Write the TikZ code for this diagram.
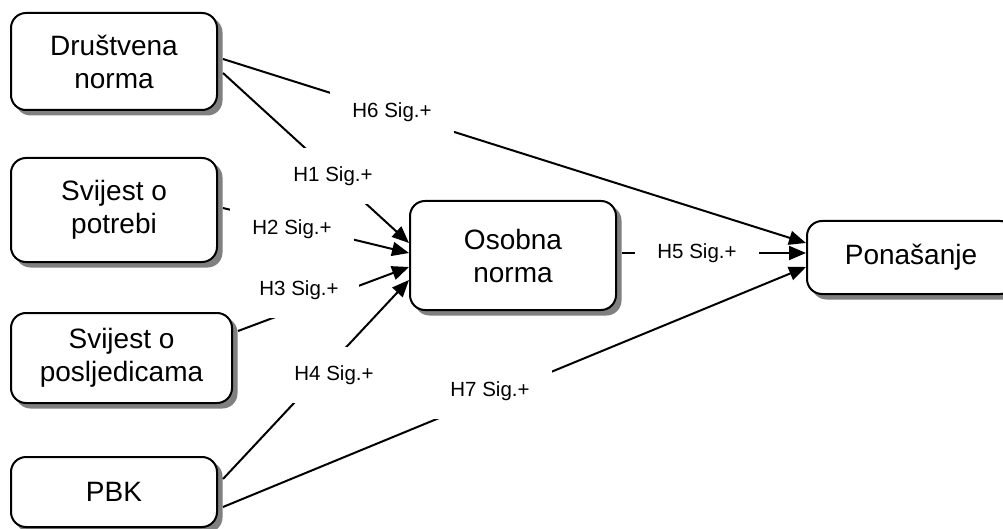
\documentclass[tikz,border=0pt]{standalone}
\usepackage{fontspec}
\setmainfont{Liberation Sans}
\usetikzlibrary{arrows.meta}
\begin{document}
\begin{tikzpicture}[x=1pt,y=-1pt,
  box/.style={draw=black, line width=2pt, rounded corners=15pt, fill=white, align=center,
    font=\fontsize{28}{33}\selectfont, inner sep=0pt},
  shadowbox/.style={fill=black!50, rounded corners=15pt},
  conn/.style={line width=2pt, -{Triangle[length=17pt,width=14pt]}},
  lab/.style={fill=white, font=\fontsize{20.5}{24}\selectfont, minimum width=124pt,
    minimum height=56pt, inner sep=0pt}]
\useasboundingbox (0,0) rectangle (1003,529);
% shadows
\fill[shadowbox] (15.5,17.5) rectangle (222.5,115.5);
\fill[shadowbox] (15.5,162.5) rectangle (222.5,267.5);
\fill[shadowbox] (15.5,317.5) rectangle (237.5,408.5);
\fill[shadowbox] (15.5,461.5) rectangle (222.5,532.5);
\fill[shadowbox] (414.5,205.5) rectangle (621.5,315.5);
\fill[shadowbox] (811.5,225.5) rectangle (1020.5,299.5);
% boxes
\node[box, minimum width=206pt, minimum height=97pt]  (D) at (114,61.5) {Društvena\\norma};
\node[box, minimum width=206pt, minimum height=104pt] (P) at (114,210) {Svijest o\\potrebi};
\node[box, minimum width=221pt, minimum height=90pt]  (Q) at (121.5,358) {Svijest o\\posljedicama};
\node[box, minimum width=206pt, minimum height=70pt]  (K) at (114,492) {PBK};
\node[box, minimum width=206pt, minimum height=109pt] (O) at (513,255.5) {Osobna\\norma};
\node[box, minimum width=208pt, minimum height=73pt]  (B) at (911,257.5) {Ponašanje};
% connectors (start at the outer edge of the shadow)
\draw[conn] ([xshift=5pt,yshift=2.5pt]D.east) -- ([yshift=14.5pt]B.west);
\draw[conn] ([xshift=5pt,yshift=-11.5pt]D.east) -- ([yshift=12.5pt]O.west);
\draw[conn] ([xshift=5pt,yshift=2pt]P.east) -- ([yshift=2.5pt]O.west);
\draw[conn] ([xshift=5pt,yshift=27pt]Q.east) -- ([yshift=-11.5pt]O.west);
\draw[conn] ([xshift=5pt,yshift=13pt]K.east) -- ([yshift=-24.5pt]O.west);
\draw[conn] ([xshift=5pt,yshift=-15pt]K.east) -- ([yshift=-9.5pt]B.west);
\draw[conn] ([xshift=5pt,yshift=2.5pt]O.east) -- ([yshift=4.5pt]B.west);
% labels
\node[lab] (l6) at (392,112) {H6 Sig.+};
\node[lab] (l1) at (333,176) {H1 Sig.+};
\node[lab] (l2) at (292,229) {H2 Sig.+};
\node[lab, minimum width=120pt] (l3) at (299,290) {H3 Sig.+};
\node[lab] (l4) at (334,375) {H4 Sig.+};
\node[lab] (l7) at (490,391) {H7 Sig.+};
\node[lab, minimum height=26pt] (l5) at (697,253) {H5 Sig.+};
\end{tikzpicture}
\end{document}
